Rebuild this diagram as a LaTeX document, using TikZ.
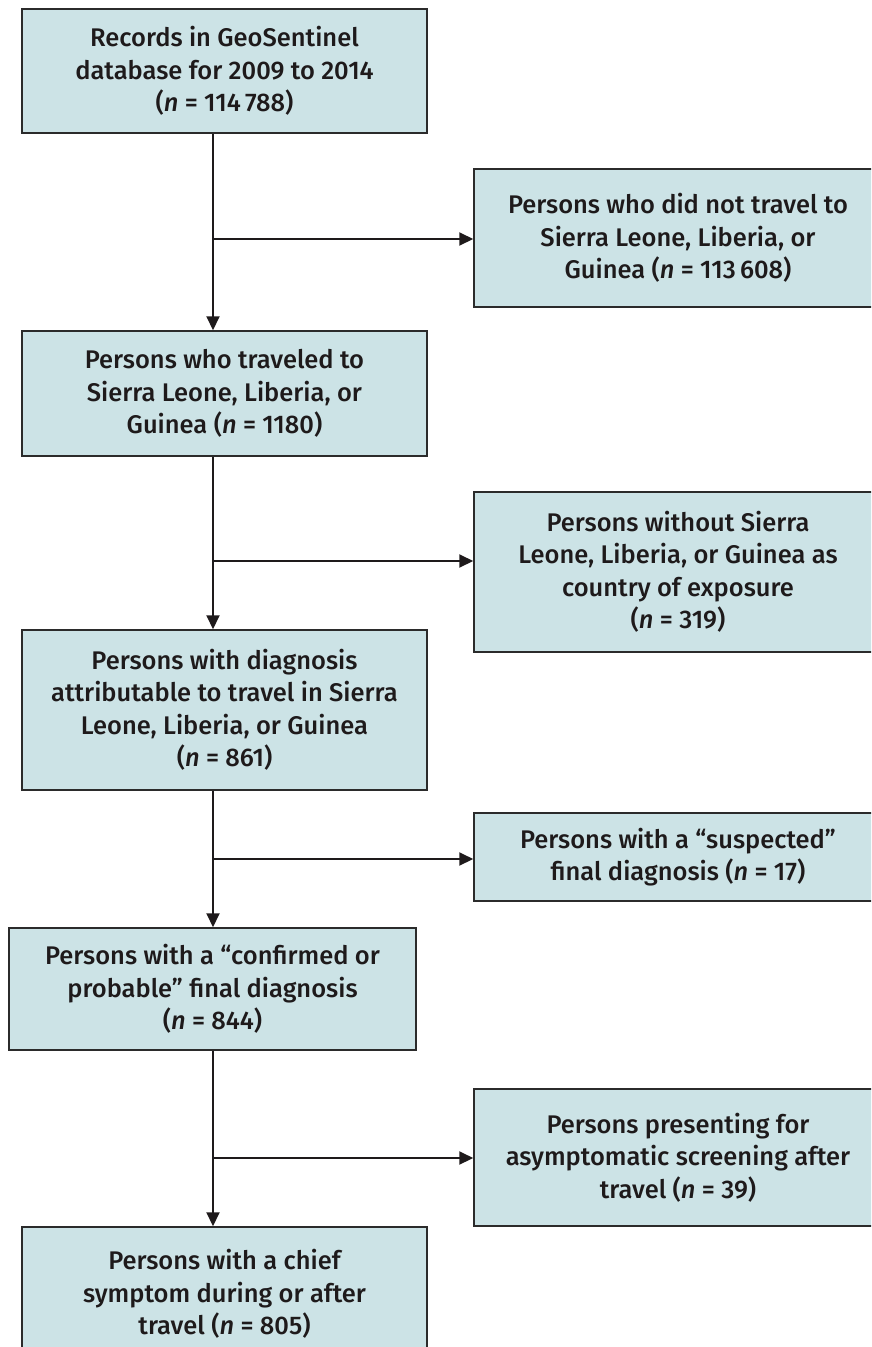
\documentclass[tikz,border=0pt]{standalone}
\usepackage{fontspec}
\setmainfont{Fira Sans}[UprightFont={* Medium}, ItalicFont={* Medium Italic}]
\usetikzlibrary{arrows.meta}
\definecolor{boxfill}{HTML}{CCE3E6}
\definecolor{boxline}{HTML}{2B2B2B}
\definecolor{ink}{HTML}{1E1A1B}
\tikzset{
  fbox/.style={draw=boxline, line width=1.5pt, fill=boxfill, inner sep=0pt, align=center,
    text=ink, font=\fontsize{25.5}{32.5}\selectfont},
  conn/.style={draw=ink, line width=2pt},
  arr/.style={conn, -{Triangle[length=14pt,width=13pt]}}
}
\newcommand{\bx}[6]{%
  \node[fbox, minimum width={#3-#1}, minimum height={#4-#2}] (#5) at ({(#1+#3)/2},{(#2+#4)/2}) {#6};}
\begin{document}
\begin{tikzpicture}[x=1pt,y=-1pt]
\useasboundingbox (0,0) rectangle (871,1347);
\clip (0,0) rectangle (871,1347);
\bx{22}{9}{427}{133}{b1}{Records in GeoSentinel\\database for 2009 to 2014\\(\textit{n} = 114\,788)}
\bx{474}{169}{882}{307}{b2}{Persons who did not travel to\\Sierra Leone, Liberia, or\\Guinea (\textit{n} = 113\,608)}
\bx{22}{331}{427}{456}{b3}{Persons who traveled to\\Sierra Leone, Liberia, or\\Guinea (\textit{n} = 1180)}
\bx{474}{492}{882}{652}{b4}{Persons without Sierra\\Leone, Liberia, or Guinea as\\country of exposure\\(\textit{n} = 319)}
\bx{22}{630}{427}{790}{b5}{Persons with diagnosis\\attributable to travel in Sierra\\Leone, Liberia, or Guinea\\(\textit{n} = 861)}
\bx{474}{813}{882}{901}{b6}{Persons with a “suspected”\\final diagnosis (\textit{n} = 17)}
\bx{9}{928}{416}{1050}{b7}{Persons with a “confirmed or\\probable” final diagnosis\\(\textit{n} = 844)}
\bx{474}{1089}{882}{1226}{b8}{Persons presenting for\\asymptomatic screening after\\travel (\textit{n} = 39)}
\bx{22}{1227}{427}{1361}{b9}{Persons with a chief\\symptom during or after\\travel (\textit{n} = 805)}
\coordinate (tx) at (213,0);
\coordinate (j1) at (213,239);
\coordinate (j2) at (213,561);
\coordinate (j3) at (213,859);
\coordinate (j4) at (213,1158);
\draw[arr] (b1.south -| tx) -- (b3.north -| tx);
\draw[arr] (b3.south -| tx) -- (b5.north -| tx);
\draw[arr] (b5.south -| tx) -- (b7.north -| tx);
\draw[arr] (b7.south -| tx) -- (b9.north -| tx);
\draw[arr] (j1) -- (j1 -| b2.west);
\draw[arr] (j2) -- (j2 -| b4.west);
\draw[arr] (j3) -- (j3 -| b6.west);
\draw[arr] (j4) -- (j4 -| b8.west);
\end{tikzpicture}
\end{document}
